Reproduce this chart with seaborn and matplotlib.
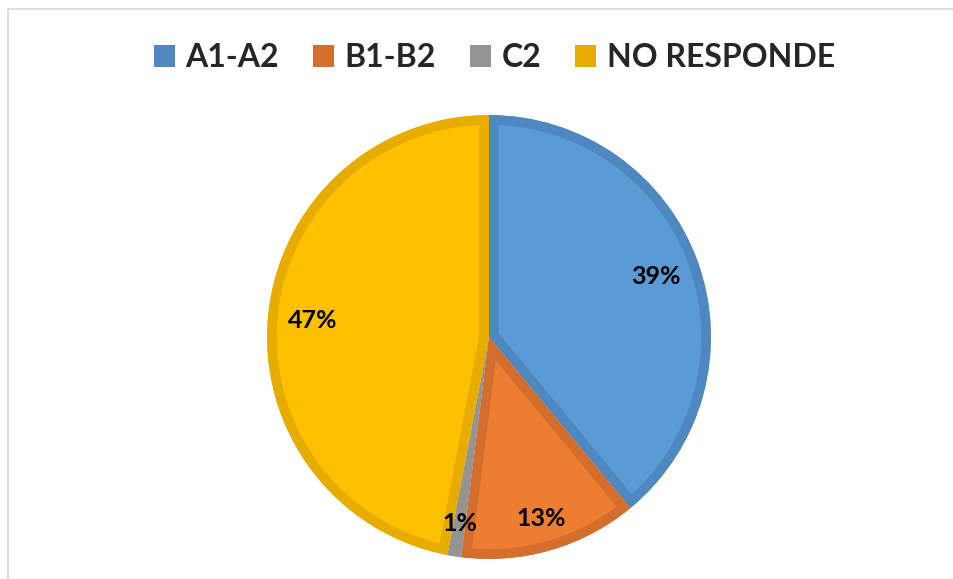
import matplotlib
matplotlib.use("Agg")
import matplotlib.pyplot as plt
from matplotlib.patches import Patch, Rectangle
import seaborn as sns

# data
categories = ["A1-A2", "B1-B2", "C2", "NO RESPONDE"]
values = [39, 13, 1, 47]
fill_colors = ["#5B9BD5", "#ED7D31", "#A5A5A5", "#FFC000"]
edge_colors = ["#4F88C0", "#D46E2C", "#949494", "#E6AC00"]

sns.set_theme(style="white")
plt.rcParams["font.family"] = ["Lato", "DejaVu Sans"]

W, H = 954, 579
fig = plt.figure(figsize=(W / 100, H / 100), dpi=100)

# pie axes: center and radius in pixels
cx, cy, r = 489, 337, 222
ax = fig.add_axes([(cx - r) / W, (H - cy - r) / H, 2 * r / W, 2 * r / H])

wedges, texts, autotexts = ax.pie(
    values, colors=fill_colors, startangle=90, counterclock=False,
    autopct="%1.0f%%", pctdistance=0.80,
    textprops=dict(fontsize=18, fontweight="bold", color="black"),
)
# darker border drawn only on the inside of each slice
for w, ec in zip(wedges, edge_colors):
    w.set_edgecolor(ec)
    w.set_linewidth(14)
    w.set_clip_on(True)
    w.set_clip_path(w)

# small slices: labels sit a bit further out
for t, v in zip(autotexts, values):
    if v < 20:
        x, y = t.get_position()
        t.set_position((x * 0.85 / 0.80, y * 0.85 / 0.80))

ax.set_xlim(-1, 1)
ax.set_ylim(-1, 1)
ax.set_aspect("equal")
ax.axis("off")

# legend on top
handles = [Patch(facecolor=c, edgecolor="none", label=l) for c, l in zip(edge_colors, categories)]
fig.legend(handles=handles, loc="upper center", bbox_to_anchor=(0.518, 0.975), ncol=4,
           frameon=False, prop=dict(size=23, weight="bold"),
           handlelength=0.68, handleheight=0.72, handletextpad=0.32, columnspacing=1.05)

# chart area border (top and left visible)
fig.patches.append(Rectangle((8 / W, -0.1), 1.2, (H - 9) / H + 0.1, transform=fig.transFigure,
                             fill=False, edgecolor="#D9D9D9", linewidth=1.2))

fig.savefig("out.png", dpi=100)
